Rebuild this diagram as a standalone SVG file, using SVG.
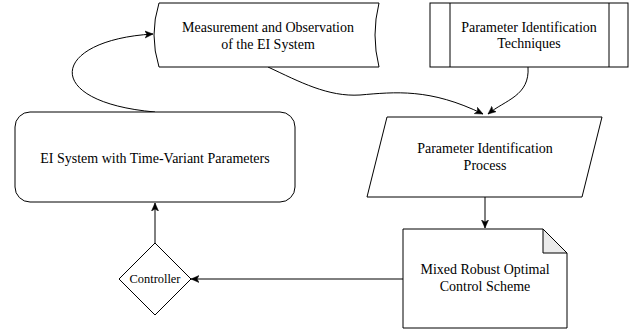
<svg xmlns="http://www.w3.org/2000/svg" width="644" height="334" viewBox="0 0 644 334">
<style>
.s{fill:#fff;stroke:#000;stroke-width:1}
.t{fill:#000;text-anchor:middle}
.c{fill:none;stroke:#000;stroke-width:1}
</style>
<defs>
<marker id="ah" markerWidth="10" markerHeight="10" refX="8" refY="4" orient="auto" markerUnits="userSpaceOnUse">
<path d="M0,0.5 L8,4 L0,7.5 L2,4 Z" fill="#000" stroke="#000" stroke-width="0.5"/>
</marker>
</defs>
<rect width="644" height="334" fill="#fff"/>
<g id="connectors">
<path class="c" d="M155,112 C40,102 50,40 153,34" marker-end="url(#ah)"/>
<path class="c" d="M268,67 C300,82 328,97 360,95 C395,92 430,88 483,114" marker-end="url(#ah)"/>
<path class="c" d="M528,67 C530,96 505,100 488,114" marker-end="url(#ah)"/>
<path class="c" d="M485,197 L485,228" marker-end="url(#ah)"/>
<path class="c" d="M403,279 L191,279" marker-end="url(#ah)"/>
<path class="c" d="M155,243 L155,203" marker-end="url(#ah)"/>
</g>
<g font-family="Liberation Serif, serif" font-size="14">
<g id="measurement">
<path class="s" d="M159,3 L379,3 Q371,35 379,67 L159,67 Q149,35 159,3 Z"/>
<text class="t" x="268" y="32">Measurement and Observation</text>
<text class="t" x="268" y="48.5">of the EI System</text>
</g>
<g id="techniques">
<rect class="s" x="430" y="3" width="198" height="64"/>
<line class="c" x1="450" y1="3" x2="450" y2="67"/>
<line class="c" x1="609" y1="3" x2="609" y2="67"/>
<text class="t" x="529" y="31.5">Parameter Identification</text>
<text class="t" x="529" y="48">Techniques</text>
</g>
<g id="ei-system">
<rect class="s" x="15" y="112" width="280" height="90" rx="15" ry="15"/>
<text class="t" x="155" y="162.5">EI System with Time-Variant Parameters</text>
</g>
<g id="process">
<path class="s" d="M387,117 L602,117 L582,197 L367,197 Z"/>
<text class="t" x="485" y="153">Parameter Identification</text>
<text class="t" x="485" y="170">Process</text>
</g>
<g id="scheme">
<path class="s" d="M403,229 L543,229 L567,253 L567,328 L403,328 Z"/>
<path d="M543,229 L543,253 L567,253 Z" fill="#ebebeb" stroke="#000" stroke-width="1"/>
<text class="t" x="485" y="274">Mixed Robust Optimal</text>
<text class="t" x="485" y="291">Control Scheme</text>
</g>
<g id="controller">
<path class="s" d="M155,243 L191,279 L155,315 L119,279 Z"/>
<text class="t" x="155" y="283" font-size="12.4">Controller</text>
</g>
</g>
</svg>
